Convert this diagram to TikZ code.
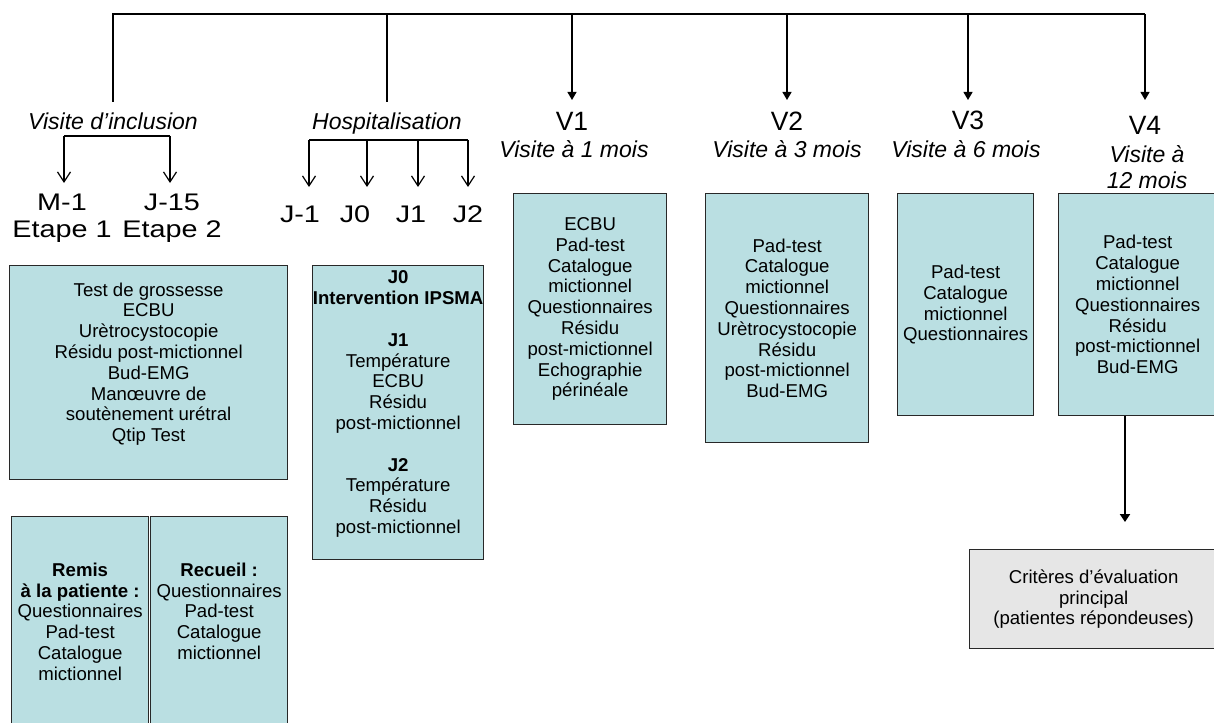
\documentclass[tikz,border=0pt]{standalone}
\usepackage{fontspec}
\setmainfont{Liberation Sans}
\newfontfamily\widefont[FakeStretch=1.2]{Liberation Sans}
\usetikzlibrary{arrows.meta}

\definecolor{boxfill}{RGB}{186,223,226}
\definecolor{boxline}{RGB}{40,40,40}
\definecolor{critfill}{RGB}{230,230,230}

\newcommand\bxfont{\fontsize{18.6}{20.8}\selectfont}
\newcommand\lblfont{\itshape\fontsize{23}{25}\selectfont}
\newcommand\visfont{\fontsize{26.5}{28}\selectfont}
\newcommand\stagefont{\widefont\fontsize{24}{21}\selectfont}

\tikzset{
  lbl/.style={font=\lblfont, inner sep=0pt, anchor=base},
  vis/.style={font=\visfont, inner sep=0pt, anchor=base},
  stage/.style={font=\stagefont, inner sep=0pt, anchor=base},
  box/.style={draw=boxline, line width=1.3pt, fill=boxfill, font=\bxfont, align=center, anchor=north west, inner sep=0pt},
  link/.style={line width=1.2pt},
  branch/.style={link, -{Straight Barb[length=10pt, width=13pt]}},
  visit/.style={link, -{Triangle[length=8pt, width=9pt]}},
  result/.style={line width=2.6pt, -{Triangle[length=8pt, width=10pt]}},
}

\begin{document}
\begin{tikzpicture}[x=1pt, y=-1pt]

\def\W{1214}
\def\H{722}
\path [use as bounding box] (0,0) rectangle (\W,\H);
\clip (0,0) rectangle (\W,\H);

% LEVELS
\coordinate (trunk) at (0,14);
\coordinate (drop) at (0,102);
\coordinate (vtip) at (0,100);

% VISIT LABELS
\node[lbl] (incl) at (113,130) {Visite d’inclusion};
\node[lbl] (hosp) at (387,130) {Hospitalisation};
\node[vis] (v1) at (572,131) {V1};
\node[lbl] (v1t) at (574,158) {Visite à 1 mois};
\node[vis] (v2) at (787,131) {V2};
\node[lbl] (v2t) at (787,158) {Visite à 3 mois};
\node[vis] (v3) at (968,130) {V3};
\node[lbl] (v3t) at (966,158) {Visite à 6 mois};
\node[vis] (v4) at (1145,135) {V4};
\node[lbl] (v4t) at (1147,163) {Visite à};
\node[lbl] (v4m) at (1147,188) {12 mois};

% STAGES
\node[stage] (m1) at (62,210) {M-1};
\node[stage] (e1) at (62,237) {Etape 1};
\node[stage] (j15) at (172,210) {J-15};
\node[stage] (e2) at (172,237) {Etape 2};
\node[stage] (jm1) at (300,222) {J-1};
\node[stage] (j0) at (355,222) {J0};
\node[stage] (j1) at (411,222) {J1};
\node[stage] (j2) at (468,222) {J2};

% TRUNK
\draw[link] (incl |- drop) -- (incl |- trunk) -- (v4 |- trunk);
\draw[link] (hosp |- drop) -- (hosp |- trunk);
\foreach \v in {v1,v2,v3,v4}
  \draw[visit] (\v |- trunk) -- (\v |- vtip);

% BRACKETS
\coordinate (ic1) at (64,136);
\coordinate (ic2) at (170,136);
\draw[link] (ic1) -- (ic2);
\foreach \c in {ic1,ic2}
  \draw[branch] (\c) -- ++(0,47);

\coordinate (hc1) at (309,140);
\coordinate (hc2) at (367,140);
\coordinate (hc3) at (418,140);
\coordinate (hc4) at (468,140);
\draw[link] (hc1) -- (hc4);
\foreach \c in {hc1,hc2,hc3,hc4}
  \draw[branch] (\c) -- ++(0,47);

% BOXES
\node[box, minimum width=278, minimum height=214] (inclbox) at (9,265)
  {Test de grossesse\\ECBU\\Urètrocystocopie\\Résidu post-mictionnel\\Bud-EMG\\Manœuvre de\\soutènement urétral\\Qtip Test\\ \mbox{}};
\node[box, minimum width=137, minimum height=210] (remis) at (11,516)
  {\textbf{Remis}\\\textbf{à la patiente :}\\Questionnaires\\Pad-test\\Catalogue\\mictionnel};
\node[box, minimum width=137, minimum height=210] (recueil) at (150,516)
  {\textbf{Recueil :}\\Questionnaires\\Pad-test\\Catalogue\\mictionnel\\ \mbox{}};
\node[box, minimum width=171, minimum height=294] (jbox) at (312,265)
  {\textbf{J0}\\\textbf{Intervention IPSMA}\\[20.8pt]\textbf{J1}\\Température\\ECBU\\Résidu\\post-mictionnel\\[20.8pt]\textbf{J2}\\Température\\Résidu\\post-mictionnel\\ \mbox{}};
\node[box, minimum width=153, minimum height=231] (v1box) at (513,193)
  {ECBU\\Pad-test\\Catalogue\\mictionnel\\Questionnaires\\Résidu\\post-mictionnel\\Echographie\\périnéale};
\node[box, minimum width=163, minimum height=249] (v2box) at (705,193)
  {Pad-test\\Catalogue\\mictionnel\\Questionnaires\\Urètrocystocopie\\Résidu\\post-mictionnel\\Bud-EMG};
\node[box, minimum width=136, minimum height=222] (v3box) at (897,193)
  {Pad-test\\Catalogue\\mictionnel\\Questionnaires};
\node[box, minimum width=158, minimum height=222] (v4box) at (1058,193)
  {Pad-test\\Catalogue\\mictionnel\\Questionnaires\\Résidu\\post-mictionnel\\Bud-EMG};

% OUTCOME
\node[box, fill=critfill, minimum width=248, minimum height=99] (crit) at (969,549)
  {Critères d’évaluation\\principal\\(patientes répondeuses)};
\coordinate (crittip) at (1125,522);
\draw[result] (v4box.south -| crittip) -- (crittip);

\end{tikzpicture}
\end{document}
